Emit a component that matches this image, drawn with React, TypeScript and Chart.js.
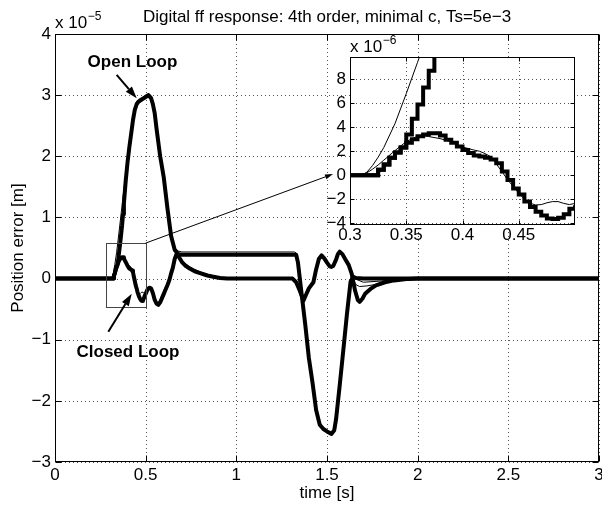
import React, { useEffect, useRef } from "react";
import { Chart, registerables } from "chart.js";

Chart.register(...registerables);

const FONT = '"Liberation Sans", Arial, Helvetica, sans-serif';
const M = "\u2212";

// ---- data: time [s], position error in micrometres (1e-6 m) ----
const openThickT = [0, 0.3, 0.305, 0.31, 0.315, 0.32, 0.325, 0.33, 0.335, 0.34, 0.345, 0.35, 0.355, 0.36, 0.365, 0.37, 0.375, 0.38, 0.39, 0.4, 0.41, 0.42, 0.43, 0.44, 0.45, 0.46, 0.48, 0.5, 0.515, 0.53, 0.54, 0.55, 0.56, 0.58, 0.6, 0.62, 0.64, 0.66, 0.68, 0.7, 1.33, 1.34, 1.36, 1.38, 1.4, 1.42, 1.44, 1.46, 1.48, 1.5, 1.525, 1.54, 1.55, 1.57, 1.59, 1.61, 1.63, 1.645, 1.66, 1.7, 3];
const openThickY = [0, 0, 0, 0, 0, 0, 0.45, 0.9, 1.45, 1.9, 2.3, 3.4, 4.7, 5.9, 7.3, 8.7, 10.5, 12.3, 16.0, 19.0, 21.5, 23.7, 25.9, 27.6, 28.5, 28.9, 29.3, 29.7, 30.0, 29.5, 28.5, 27.0, 24.5, 20.0, 16.5, 11.5, 7.0, 4.7, 4.0, 3.9, 3.9, 2.6, -2.5, -7.5, -13.0, -17.0, -21.5, -23.9, -24.6, -25.0, -25.4, -24.8, -23.0, -17.5, -11.7, -5.8, -0.5, 0.3, 0.1, 0, 0];

const openThinT = [0, 0.31, 0.315, 0.32, 0.325, 0.33, 0.34, 0.35, 0.36, 0.37, 0.38, 0.39, 0.4, 0.41, 0.42, 0.43, 0.44, 0.45, 0.46, 0.48, 0.5, 0.515, 0.53, 0.54, 0.55, 0.56, 0.58, 0.6, 0.62, 0.64, 0.66, 0.68, 0.7, 1.32, 1.33, 1.34, 1.36, 1.38, 1.4, 1.42, 1.44, 1.46, 1.48, 1.5, 1.525, 1.54, 1.55, 1.57, 1.59, 1.61, 1.63, 1.645, 1.66, 1.7, 1.8, 1.9, 2, 3];
const openThinY = [0, 0, 0.25, 0.8, 1.5, 2.3, 4.3, 6.8, 9.4, 12.0, 14.6, 17.3, 19.8, 22.0, 24.2, 26.3, 27.9, 29.0, 29.3, 29.6, 30.0, 30.2, 29.6, 28.6, 27.0, 24.6, 20.2, 16.6, 11.7, 7.3, 5.0, 4.5, 4.35, 4.35, 4.2, 2.8, -2.2, -7.2, -12.7, -16.8, -21.3, -23.8, -24.6, -25.0, -25.3, -24.6, -22.8, -17.3, -11.5, -5.6, -0.4, 0.2, -0.1, -0.6, -0.4, -0.15, 0, 0];

const closedThickT = [0, 0.3, 0.305, 0.31, 0.315, 0.32, 0.325, 0.33, 0.335, 0.34, 0.345, 0.35, 0.355, 0.36, 0.365, 0.37, 0.375, 0.38, 0.385, 0.39, 0.395, 0.4, 0.405, 0.41, 0.415, 0.42, 0.425, 0.43, 0.435, 0.44, 0.445, 0.45, 0.455, 0.46, 0.465, 0.47, 0.475, 0.48, 0.485, 0.49, 0.495, 0.5, 0.51, 0.52, 0.53, 0.54, 0.55, 0.56, 0.57, 0.58, 0.59, 0.6, 0.61, 0.62, 0.63, 0.64, 0.65, 0.66, 0.67, 0.675, 0.68, 0.69, 0.7, 0.72, 0.745, 0.77, 0.8, 0.84, 0.873, 0.91, 0.95, 1.31, 1.33, 1.35, 1.37, 1.385, 1.4, 1.425, 1.44, 1.455, 1.47, 1.485, 1.5, 1.515, 1.525, 1.535, 1.55, 1.56, 1.57, 1.585, 1.6, 1.62, 1.636, 1.655, 1.67, 1.68, 1.695, 1.71, 1.74, 1.77, 1.82, 1.87, 1.95, 2, 3];
const closedThickY = [0, 0, 0, 0, 0, 0, 0.45, 0.9, 1.45, 1.9, 2.3, 2.7, 3.0, 3.25, 3.4, 3.5, 3.5, 3.3, 2.95, 2.7, 2.4, 2.1, 1.85, 1.65, 1.55, 1.45, 1.3, 1.0, 0.3, -0.4, -1.1, -1.6, -2.2, -2.65, -3.05, -3.35, -3.6, -3.65, -3.55, -3.25, -2.8, -2.5, -1.8, -1.5, -1.6, -2.4, -3.5, -4.1, -4.3, -3.9, -3.2, -2.5, -1.8, -1.1, -0.3, 0.8, 1.8, 3.2, 4.0, 4.1, 3.7, 3.2, 2.7, 2.1, 1.6, 1.2, 0.9, 0.5, 0.3, 0.1, 0, 0, -0.6, -2.0, -3.6, -2.6, -1.6, -0.6, 1.5, 3.2, 3.8, 3.3, 2.6, 2.0, 1.9, 2.1, 3.1, 4.0, 4.4, 4.0, 3.2, 2.2, 0.8, -2.0, -3.5, -3.8, -3.3, -2.5, -1.7, -1.1, -0.6, -0.3, -0.05, 0, 0];

const closedThinT = [0, 0.31, 0.315, 0.32, 0.325, 0.33, 0.34, 0.35, 0.36, 0.365, 0.37, 0.38, 0.39, 0.4, 0.41, 0.415, 0.42, 0.425, 0.43, 0.435, 0.44, 0.445, 0.45, 0.455, 0.46, 0.465, 0.47, 0.475, 0.48, 0.485, 0.49, 0.495, 0.5, 0.51, 0.52, 0.53, 0.54, 0.55, 0.56, 0.57, 0.58, 0.59, 0.6, 0.61, 0.62, 0.63, 0.64, 0.65, 0.66, 0.67, 0.675, 0.68, 0.69, 0.7, 0.72, 0.745, 0.77, 0.8, 0.84, 0.873, 0.91, 0.95, 1, 1.31, 1.33, 1.35, 1.37, 1.385, 1.4, 1.425, 1.44, 1.455, 1.47, 1.485, 1.5, 1.515, 1.525, 1.535, 1.55, 1.56, 1.57, 1.585, 1.6, 1.62, 1.636, 1.65, 1.66, 1.68, 1.72, 1.78, 1.85, 1.95, 2, 3];
const closedThinY = [0, 0, 0.2, 0.5, 0.85, 1.25, 2.05, 2.8, 3.25, 3.3, 3.22, 3.05, 2.8, 2.35, 2.1, 2.0, 1.8, 1.55, 0.95, 0.3, -0.35, -0.95, -1.5, -2.0, -2.33, -2.48, -2.45, -2.3, -2.2, -2.2, -2.35, -2.45, -2.35, -1.9, -1.6, -1.8, -2.6, -3.5, -3.9, -3.9, -3.4, -2.7, -2.0, -1.3, -0.6, 0.2, 1.2, 2.2, 3.3, 4.0, 4.2, 3.9, 3.4, 3.0, 2.4, 1.9, 1.5, 1.1, 0.7, 0.45, 0.25, 0.1, 0, 0, -0.4, -1.8, -3.3, -2.7, -1.7, -0.4, 1.6, 3.3, 3.9, 3.4, 2.7, 2.1, 2.0, 2.2, 3.2, 4.0, 4.3, 3.9, 3.1, 2.0, 0.6, -0.5, -1.0, -1.3, -1.2, -0.9, -0.5, -0.1, 0, 0];

const mainXTicks = [0, 0.5, 1, 1.5, 2, 2.5, 3];
const mainXLabels = ["0", "0.5", "1", "1.5", "2", "2.5", "3"];
const mainYTicks = [-30, -20, -10, 0, 10, 20, 30, 40];
const mainYLabels = [M + "3", M + "2", M + "1", "0", "1", "2", "3", "4"];
const insetXTicks = [0.3, 0.35, 0.4, 0.45];
const insetXLabels = ["0.3", "0.35", "0.4", "0.45"];
const insetYTicks = [-4, -2, 0, 2, 4, 6, 8];
const insetYLabels = [M + "4", M + "2", "0", "2", "4", "6", "8"];

const TITLE = "Digital ff response: 4th order, minimal c, Ts=5e" + M + "3";
const XTITLE = "time [s]";
const YTITLE = "Position error [m]";

// annotation anchors (data coordinates: s, µm)
const OPEN_TEXT = { x: 0.427, y: 34.6 };
const OPEN_ARROW = { x1: 0.34, y1: 33.3, x2: 0.4506, y2: 29.5 };
const CLOSED_TEXT = { x: 0.4026, y: -12.9 };
const CLOSED_ARROW = { x1: 0.294, y1: -8.7, x2: 0.423, y2: -2.5 };
const ZOOM_BOX = { x0: 0.28, x1: 0.5, y0: -4.7, y1: 5.8 };
const CONNECTOR = { x1: 0.5, y1: 5.8, x2: 1.533, y2: 17.1 };

const pts = (t: number[], y: number[]) => t.map((x, i) => ({ x, y: y[i] }));

function arrow(ctx: CanvasRenderingContext2D, x1: number, y1: number, x2: number, y2: number, lw: number, hl: number, hw: number) {
  const a = Math.atan2(y2 - y1, x2 - x1);
  const bx = x2 - hl * Math.cos(a);
  const by = y2 - hl * Math.sin(a);
  ctx.lineWidth = lw;
  ctx.beginPath();
  ctx.moveTo(x1, y1);
  ctx.lineTo(bx, by);
  ctx.stroke();
  ctx.beginPath();
  ctx.moveTo(x2, y2);
  ctx.lineTo(bx + (hw / 2) * Math.sin(a), by - (hw / 2) * Math.cos(a));
  ctx.lineTo(bx - (hw / 2) * Math.sin(a), by + (hw / 2) * Math.cos(a));
  ctx.closePath();
  ctx.fill();
}

function drawGrid(chart: any, xt: number[], yt: number[]) {
  const { ctx, chartArea: a, scales } = chart;
  ctx.save();
  ctx.fillStyle = "#555";
  // dotted grid: one-pixel dots every 4 px
  for (const v of xt) {
    const p = Math.round(scales.x.getPixelForValue(v));
    for (let yy = Math.round(a.top) + 2; yy < a.bottom - 1; yy += 4) ctx.fillRect(p, yy, 1, 1);
  }
  for (const v of yt) {
    const p = Math.round(scales.y.getPixelForValue(v));
    for (let xx = Math.round(a.left) + 2; xx < a.right - 1; xx += 4) ctx.fillRect(xx, p, 1, 1);
  }
  ctx.restore();
}

function drawBoxAndTicks(chart: any, xt: number[], yt: number[], len: number) {
  const { ctx, chartArea: a, scales } = chart;
  ctx.save();
  ctx.strokeStyle = "#000";
  ctx.lineWidth = 1;
  const L = Math.round(a.left) + 0.5, R = Math.round(a.right) - 0.5;
  const T = Math.round(a.top) + 0.5, B = Math.round(a.bottom) - 0.5;
  ctx.beginPath();
  for (const v of xt) {
    const p = Math.round(scales.x.getPixelForValue(v)) + 0.5;
    ctx.moveTo(p, B); ctx.lineTo(p, B - len);
    ctx.moveTo(p, T); ctx.lineTo(p, T + len);
  }
  for (const v of yt) {
    const p = Math.round(scales.y.getPixelForValue(v)) + 0.5;
    ctx.moveTo(L, p); ctx.lineTo(L + len, p);
    ctx.moveTo(R, p); ctx.lineTo(R - len, p);
  }
  ctx.stroke();
  ctx.strokeRect(L, T, R - L, B - T);
  ctx.restore();
}

function drawExponent(ctx: CanvasRenderingContext2D, x: number, base: number, exp: string) {
  ctx.font = `17px ${FONT}`;
  ctx.textAlign = "left";
  ctx.textBaseline = "alphabetic";
  ctx.fillStyle = "#000";
  const s = "x 10";
  ctx.fillText(s, x, base);
  const w = ctx.measureText(s).width;
  ctx.font = `12px ${FONT}`;
  ctx.fillText(exp, x + w + 0.5, base - 8);
}

const mainDecor = {
  id: "mainDecor",
  beforeDatasetsDraw(chart: any) {
    drawGrid(chart, mainXTicks, mainYTicks);
  },
  afterDraw(chart: any) {
    const { ctx, chartArea: a, scales } = chart;
    const X = (v: number) => scales.x.getPixelForValue(v);
    const Y = (v: number) => scales.y.getPixelForValue(v);
    drawBoxAndTicks(chart, mainXTicks, mainYTicks, 6);
    ctx.save();
    ctx.fillStyle = "#000";
    ctx.strokeStyle = "#444";
    ctx.lineWidth = 1;
    ctx.strokeRect(Math.round(X(ZOOM_BOX.x0)) + 0.5, Math.round(Y(ZOOM_BOX.y1)) + 0.5,
      Math.round(X(ZOOM_BOX.x1)) - Math.round(X(ZOOM_BOX.x0)), Math.round(Y(ZOOM_BOX.y0)) - Math.round(Y(ZOOM_BOX.y1)));
    ctx.strokeStyle = "#000";
    arrow(ctx, X(CONNECTOR.x1), Y(CONNECTOR.y1), X(CONNECTOR.x2), Y(CONNECTOR.y2), 1, 8, 5);
    arrow(ctx, X(OPEN_ARROW.x1), Y(OPEN_ARROW.y1), X(OPEN_ARROW.x2), Y(OPEN_ARROW.y2), 2, 12, 8);
    arrow(ctx, X(CLOSED_ARROW.x1), Y(CLOSED_ARROW.y1), X(CLOSED_ARROW.x2), Y(CLOSED_ARROW.y2), 2, 12, 8);
    ctx.font = `bold 17px ${FONT}`;
    ctx.textAlign = "center";
    ctx.textBaseline = "alphabetic";
    ctx.fillText("Open Loop", X(OPEN_TEXT.x), Y(OPEN_TEXT.y));
    ctx.fillText("Closed Loop", X(CLOSED_TEXT.x), Y(CLOSED_TEXT.y));
    ctx.font = `17px ${FONT}`;
    ctx.fillText(TITLE, (a.left + a.right) / 2, 22);
    ctx.fillText(XTITLE, (a.left + a.right) / 2, 498);
    ctx.save();
    ctx.translate(23, (a.top + a.bottom) / 2);
    ctx.rotate(-Math.PI / 2);
    ctx.fillText(YTITLE, 0, 0);
    ctx.restore();
    drawExponent(ctx, a.left, a.top - 6, M + "5");
    ctx.restore();
  },
};

const insetDecor = {
  id: "insetDecor",
  beforeDraw(chart: any) {
    const { ctx, chartArea: a } = chart;
    ctx.save();
    ctx.fillStyle = "#fff";
    ctx.fillRect(a.left, a.top, a.right - a.left, a.bottom - a.top);
    ctx.restore();
  },
  beforeDatasetsDraw(chart: any) {
    drawGrid(chart, insetXTicks, insetYTicks);
  },
  afterDraw(chart: any) {
    const { ctx, chartArea: a } = chart;
    drawBoxAndTicks(chart, insetXTicks, insetYTicks, 4);
    ctx.save();
    drawExponent(ctx, a.left, a.top - 5, M + "6");
    ctx.restore();
  },
};

function axis(min: number, max: number, ticks: number[], labels: string[], isX: boolean, size: number, pad: number) {
  return {
    type: "linear" as const,
    min,
    max,
    afterBuildTicks: (s: any) => { s.ticks = ticks.map((v) => ({ value: v })); },
    afterFit: (s: any) => {
      if (isX) s.height = size; else s.width = size;
      s.paddingLeft = 0; s.paddingRight = 0; s.paddingTop = 0; s.paddingBottom = 0;
    },
    grid: { display: false, drawTicks: false },
    border: { display: false },
    ticks: {
      color: "#000",
      font: { family: FONT, size: 17 },
      padding: pad,
      maxRotation: 0,
      minRotation: 0,
      autoSkip: false,
      callback: (_v: any, i: number) => labels[i],
    },
  };
}

function lineDs(data: any[], width: number, stepped: boolean) {
  return {
    data,
    showLine: true,
    borderColor: "#000",
    backgroundColor: "#000",
    borderWidth: width,
    pointRadius: 0,
    stepped,
    borderJoinStyle: (stepped ? "miter" : "round") as any,
    borderCapStyle: "butt" as any,
    clip: 0,
  };
}

export default function App() {
  const mainRef = useRef<HTMLCanvasElement>(null);
  const insetRef = useRef<HTMLCanvasElement>(null);

  useEffect(() => {
    const main = new Chart(mainRef.current as HTMLCanvasElement, {
      type: "scatter",
      data: {
        datasets: [
          lineDs(pts(openThickT, openThickY), 4, false),
          lineDs(pts(closedThickT, closedThickY), 4, false),
          lineDs(pts(openThinT, openThinY), 1, false),
          lineDs(pts(closedThinT, closedThinY), 1, false),
        ] as any,
      },
      options: {
        animation: false,
        responsive: false,
        events: [],
        layout: { autoPadding: false, padding: { top: 34, right: 3, left: 0, bottom: 0 } },
        plugins: { legend: { display: false }, tooltip: { enabled: false }, title: { display: false } },
        scales: {
          x: axis(0, 3, mainXTicks, mainXLabels, true, 44, 3) as any,
          y: axis(-30, 40, mainYTicks, mainYLabels, false, 55, 4) as any,
        },
      },
      plugins: [mainDecor],
    });

    const inset = new Chart(insetRef.current as HTMLCanvasElement, {
      type: "scatter",
      data: {
        datasets: [
          lineDs(pts(openThickT, openThickY), 4, true),
          lineDs(pts(closedThickT, closedThickY), 4, true),
          lineDs(pts(openThinT, openThinY), 1, false),
          lineDs(pts(closedThinT, closedThinY), 1, false),
        ] as any,
      },
      options: {
        animation: false,
        responsive: false,
        events: [],
        layout: { autoPadding: false, padding: { top: 29, right: 17, left: 0, bottom: 0 } },
        plugins: { legend: { display: false }, tooltip: { enabled: false }, title: { display: false } },
        scales: {
          x: axis(0.3, 0.5, insetXTicks, insetXLabels, true, 25, 0) as any,
          y: axis(-4.15, 9.85, insetYTicks, insetYLabels, false, 50, 4) as any,
        },
      },
      plugins: [insetDecor],
    });

    return () => {
      main.destroy();
      inset.destroy();
    };
  }, []);

  return (
    <div style={{ position: "absolute", left: 0, top: 0, width: 602, height: 506, background: "#fff" }}>
      <canvas ref={mainRef} width={602} height={506} style={{ position: "absolute", left: 0, top: 0, width: 602, height: 506 }} />
      <canvas ref={insetRef} width={292} height={222} style={{ position: "absolute", left: 300, top: 28, width: 292, height: 222 }} />
    </div>
  );
}
